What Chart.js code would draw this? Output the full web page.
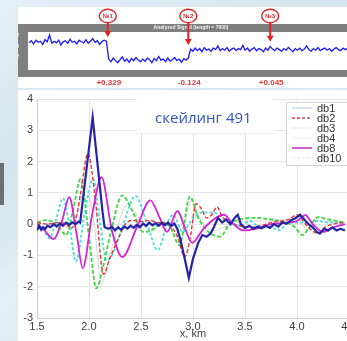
<!DOCTYPE html>
<html><head><meta charset="utf-8">
<script src="https://cdn.jsdelivr.net/npm/chart.js@4.4.0/dist/chart.umd.min.js"></script>
<style>
html,body{margin:0;padding:0;width:347px;height:341px;overflow:hidden;}
body{position:relative;background:linear-gradient(155deg,#e4eff5 0%,#d2e4ee 35%,#e2eff5 60%,#cfe2ec 100%);}
#topPanel{position:absolute;left:18px;top:7px;width:340px;height:81px;background:#fff;}
#botPanel{position:absolute;left:18px;top:90px;width:340px;height:260px;background:#fff;}
#bar{position:absolute;left:0;top:163px;width:4px;height:42px;background:#6e6e6e;}
#topCanvas{position:absolute;left:18px;top:7px;}
#botCanvas{position:absolute;left:0;top:90px;}
</style></head>
<body>
<div id="topPanel"></div><div id="botPanel"></div><div id="bar"></div>
<canvas id="topCanvas" width="340" height="81"></canvas>
<canvas id="botCanvas" width="354" height="251"></canvas>
<script>
// ---------- top panel: analysed signal ----------
const signalStart = 100, signalStep = 50;
const signalValues = [
 0.07,0.11,0.05,0.12,0.08,0.10,0.04,0.13,0.09,0.22,0.06,0.10,0.07,0.12,0.03,0.09,0.11,0.06,0.14,0.08,
 0.10,0.05,0.12,0.09,0.07,0.13,0.06,0.10,0.15,0.08,0.11,0.04,0.09,0.12,0.10,
 -0.24,-0.29,-0.22,-0.27,-0.31,-0.25,-0.20,-0.28,-0.24,-0.30,-0.23,-0.27,-0.21,-0.26,-0.29,-0.24,-0.28,-0.22,
 -0.25,-0.31,-0.23,-0.27,-0.19,-0.26,-0.24,-0.29,-0.22,-0.28,-0.25,-0.21,-0.27,-0.24,-0.30,-0.23,-0.26,-0.22,
 -0.05,-0.09,-0.03,-0.08,-0.04,-0.10,-0.02,-0.07,-0.05,-0.09,
 -0.03,-0.06,0.01,-0.08,-0.04,-0.07,-0.02,-0.09,-0.05,-0.03,
 -0.08,-0.04,-0.06,0.02,-0.07,-0.03,-0.09,-0.05,-0.02,-0.08,
 -0.04,-0.06,-0.10,-0.03,-0.07,0.00,-0.05,-0.08,-0.03,-0.06,
 -0.09,-0.04,-0.07,-0.02,-0.06,-0.10,-0.04,-0.07,-0.03,-0.08,
 -0.05,0.01,-0.06,-0.09,-0.04,-0.07,-0.02,-0.08,-0.05,-0.03,
 -0.07,-0.04,-0.09,-0.05,-0.02,-0.06,-0.08,-0.03,-0.06,-0.04,
 -0.07,-0.05
];
const topTicksX = [1000,2000,3000,4000,5000,6000,7000];
const topTicksY = [0.2,0,-0.2];
const markerX = [1830,3600,5400];
const markerNames = ['№1','№2','№3'];
const markerTipY = [0.18,0.03,0.09];
const markerValues = ['+0.329','-0.124','+0.045'];
const topTitle = 'Analyzed Signal (length = 7000)';

// ---------- bottom panel: wavelet curves ----------
const db1X = [1.5,1.52,1.54,1.56,1.58,1.6,1.63,1.66,1.69,1.72,1.75,1.78,1.81,1.84,1.87,1.9,1.915,2.035,2.13,2.15,
 2.19,2.22,2.25,2.28,2.31,2.34,2.37,2.40,2.43,2.46,2.49,2.52,2.55,2.58,2.61,2.64,2.67,2.70,2.73,2.76,2.79,2.82,2.85,
 2.88,2.92,2.96,3.0,3.05,3.09,3.13,3.17,3.2,3.24,3.28,3.32,3.36,3.40,3.43,3.46,3.5,3.54,3.58,3.62,3.66,3.70,3.74,
 3.78,3.82,3.86,3.90,3.94,3.98,4.03,4.07,4.11,4.15,4.19,4.22,4.26,4.30,4.34,4.38,4.42,4.46];
const db1Y = [-0.2,-0.05,-0.18,-0.1,-0.15,-0.05,-0.1,0.0,-0.08,0.02,-0.05,0.05,-0.02,0.06,0.0,0.08,0.05,3.41,0.4,-0.1,
 -0.15,-0.08,-0.2,-0.1,-0.18,-0.08,-0.14,-0.05,-0.12,-0.02,-0.1,0.02,-0.06,0.05,-0.04,0.03,-0.05,0.04,-0.03,0.05,-0.06,0.02,-0.15,
 -0.5,-1.1,-1.72,-1.1,-0.6,-0.35,-0.4,-0.3,-0.1,0.2,0.05,0.15,0.0,0.2,0.3,0.0,-0.13,-0.05,-0.15,-0.08,-0.13,-0.05,-0.12,
 0.0,-0.08,0.05,0.02,0.12,0.18,0.3,0.15,0.0,-0.1,-0.25,-0.3,-0.15,-0.2,-0.1,-0.2,-0.15,-0.2];

const db2X = [1.5,1.6,1.7,1.78,1.83,1.87,1.92,1.99,2.06,2.14,2.2,2.27,2.35,2.42,2.5,2.58,2.66,2.76,2.85,2.92,2.97,3.03,3.08,3.13,3.18,3.23,3.28,3.35,3.45,3.55,3.65,3.75,3.85,3.92,4.0,4.07,4.14,4.2,4.27,4.35,4.46];
const db2Y = [0.05,0.0,0.05,0.0,-0.13,0.1,1.0,2.26,0.8,-1.6,-1.1,-0.55,0.0,0.12,0.08,0.12,0.05,0.0,-0.4,-1.05,-0.5,0.65,0.5,0.2,0.3,0.55,0.25,0.05,-0.05,-0.1,-0.05,0.05,0.1,0.15,0.3,0.05,-0.2,-0.3,-0.1,0.0,0.05];

const db3X = [1.5,1.58,1.66,1.72,1.78,1.85,1.92,2.0,2.07,2.14,2.22,2.32,2.42,2.52,2.6,2.71,2.78,2.87,2.97,3.05,3.15,3.26,3.35,3.45,3.6,3.75,3.9,3.98,4.05,4.12,4.2,4.3,4.46];
const db3Y = [0.05,0.13,0.05,-0.15,-0.35,0.5,1.45,-0.4,-2.05,-1.3,-0.1,0.92,0.4,-0.25,-0.2,0.06,-0.1,-0.67,0.88,0.2,-0.25,-0.4,0.0,0.15,0.2,0.15,0.05,-0.1,-0.35,-0.1,0.22,0.15,0.05];

const db4X = [1.5,1.7,1.8,1.88,1.97,2.05,2.12,2.2,2.37,2.48,2.58,2.7,2.82,2.88,2.98,3.08,3.2,3.3,3.5,3.7,3.9,4.0,4.1,4.2,4.46];
const db4Y = [0.0,0.05,-0.1,0.3,1.2,0.0,-1.9,-1.0,0.62,0.2,-0.2,0.05,0.0,-0.5,0.75,0.1,-0.2,-0.1,0.1,0.1,0.15,0.2,-0.2,0.1,0.05];

const db8X = [1.5,1.56,1.66,1.74,1.81,1.88,1.94,2.03,2.12,2.22,2.32,2.46,2.59,2.68,2.75,2.85,2.92,2.99,3.1,3.22,3.3,3.36,3.48,3.6,3.75,3.9,4.0,4.08,4.15,4.25,4.35,4.46];
const db8Y = [0.0,-0.15,-0.48,0.1,0.86,-0.3,-1.4,0.3,1.5,-0.2,-1.05,-0.1,0.76,0.2,-0.25,0.42,-0.1,-0.6,-0.15,0.2,0.3,0.1,-0.2,-0.15,0.0,0.05,0.1,0.29,0.0,-0.25,-0.1,0.0];

const db10X = [1.5,1.56,1.62,1.68,1.75,1.81,1.875,1.96,2.04,2.1,2.17,2.22,2.3,2.45,2.55,2.66,2.75,2.81,2.9,3.0,3.1,3.22,3.32,3.45,3.55,3.62,3.75,3.82,3.9,3.96,4.06,4.2,4.3,4.46];
const db10Y = [-0.1,-0.2,-0.45,0.1,0.83,0.0,-1.2,0.4,1.45,0.2,-1.15,-1.0,-0.3,0.9,0.1,-0.83,0.0,0.3,-0.25,0.2,0.38,0.35,0.1,-0.05,0.1,-0.05,-0.1,-0.2,0.0,0.05,0.05,0.1,0.05,0.05];

const seriesNames = ['db1','db2','db3','db4','db8','db10'];
const xTickMin = 1.5, xTickMax = 4.5, xStep = 0.5;
const yTickMin = -3, yTickMax = 4, yStep = 1;
const annoText = 'скейлинг 491';
const annoPos = [2.635, 3.23];
const annoBox = [2.46, 3.77, 4.06, 2.9];

Chart.defaults.font.family = "'Liberation Sans', Arial, sans-serif";
Chart.defaults.font.size = 11;
Chart.defaults.color = '#404040';

const pts = (xs, ys) => xs.map((v, i) => ({x: v, y: ys[i]}));

// ---- top chart ----
const topPlugin = {
  id: 'topDecor',
  beforeDraw(chart) {
    const {ctx, chartArea: a, width} = chart;
    ctx.save();
    ctx.fillStyle = '#7f7f7f';
    ctx.fillRect(0, a.top - 8, width, a.bottom - a.top + 15);
    ctx.fillStyle = '#ffffff';
    ctx.fillRect(a.left, a.top, a.right - a.left, a.bottom - a.top);
    ctx.fillStyle = '#f2f2f2';
    ctx.font = "bold 5px 'Liberation Sans', Arial";
    ctx.textAlign = 'center'; ctx.textBaseline = 'middle';
    ctx.fillText(topTitle, (a.left + a.right) / 2 - 2, a.top - 4);
    ctx.restore();
  },
  afterDraw(chart) {
    const {ctx, chartArea: a, scales: {x, y}} = chart;
    ctx.save();
    markerX.forEach((mx, i) => {
      const px = x.getPixelForValue(mx);
      const cy = 9;
      const tip = y.getPixelForValue(markerTipY[i]);
      ctx.strokeStyle = '#e02424'; ctx.fillStyle = '#e02424';
      ctx.lineWidth = 2;
      ctx.beginPath(); ctx.moveTo(px, cy + 7); ctx.lineTo(px, tip - 5); ctx.stroke();
      ctx.beginPath(); ctx.moveTo(px - 3.5, tip - 6); ctx.lineTo(px + 3.5, tip - 6); ctx.lineTo(px, tip); ctx.closePath(); ctx.fill();
      ctx.fillStyle = '#ffffff'; ctx.lineWidth = 1.4;
      ctx.beginPath(); ctx.ellipse(px, cy, 8.5, 6.8, 0, 0, Math.PI * 2); ctx.fill(); ctx.stroke();
      ctx.fillStyle = '#d82020';
      ctx.font = "bold 6px 'Liberation Sans', Arial";
      ctx.textAlign = 'center'; ctx.textBaseline = 'middle';
      ctx.fillText(markerNames[i], px, cy + 0.5);
      ctx.fillStyle = '#e43a3a';
      ctx.font = "bold 8px 'Liberation Sans', Arial";
      ctx.fillText(markerValues[i], px + 1, a.bottom + 13);
    });
    ctx.restore();
  }
};

new Chart(document.getElementById('topCanvas'), {
  type: 'line',
  data: { datasets: [{
    data: signalValues.map((v, i) => ({x: signalStart + i * signalStep, y: v})),
    borderColor: '#1a1aff', borderWidth: 1.3, pointRadius: 0, tension: 0
  }]},
  options: {
    responsive: false, animation: false, devicePixelRatio: 1,
    layout: {padding: {top: 25, bottom: 11, left: 0, right: 0}},
    plugins: {legend: {display: false}, tooltip: {enabled: false}},
    scales: {
      x: {type: 'linear', min: 77, max: 7330,
          afterBuildTicks: s => { s.ticks = topTicksX.map(v => ({value: v})); },
          afterFit: s => { s.height = 7; s.paddingLeft = 0; s.paddingRight = 0; },
          grid: {display: false}, border: {display: false},
          ticks: {color: '#f0f0f0', font: {size: 5, weight: 'bold'}, padding: 1, maxRotation: 0, autoSkip: false}},
      y: {min: -0.448, max: 0.276,
          afterBuildTicks: s => { s.ticks = topTicksY.map(v => ({value: v})); },
          afterFit: s => { s.width = 10; s.paddingTop = 0; s.paddingBottom = 0; },
          grid: {display: false}, border: {display: false},
          ticks: {color: '#f0f0f0', font: {size: 5, weight: 'bold'}, padding: 1}}
    }
  },
  plugins: [topPlugin]
});

// ---- bottom chart ----
const legendStyles = [
  {color: '#b9cbe6', dash: [], width: 1.2},
  {color: '#c94a4a', dash: [3, 2], width: 1.3},
  {color: '#cdd6cd', dash: [1.5, 1.5], width: 1.2},
  {color: '#f0f0f0', dash: [], width: 1},
  {color: '#c635c6', dash: [], width: 1.6},
  {color: '#d6f0f0', dash: [3, 2], width: 1.2}
];

const botPlugin = {
  id: 'botDecor',
  beforeDatasetsDraw(chart) {
    const {ctx, scales: {x, y}} = chart;
    const x0 = x.getPixelForValue(annoBox[0]), x1 = x.getPixelForValue(annoBox[1]);
    const y0 = y.getPixelForValue(annoBox[2]), y1 = y.getPixelForValue(annoBox[3]);
    ctx.save();
    ctx.fillStyle = '#ffffff';
    ctx.fillRect(x0, y0, x1 - x0, y1 - y0);
    ctx.strokeStyle = '#eeeeee'; ctx.lineWidth = 1;
    ctx.beginPath(); ctx.moveTo(x0, Math.round(y1) + 0.5); ctx.lineTo(x1, Math.round(y1) + 0.5); ctx.stroke();
    ctx.fillStyle = '#2e55c8';
    ctx.font = "15px 'Open Sans', 'Noto Sans', sans-serif";
    ctx.textAlign = 'left'; ctx.textBaseline = 'alphabetic';
    ctx.fillText(annoText, x.getPixelForValue(annoPos[0]), y.getPixelForValue(annoPos[1]));
    ctx.restore();
  },
  afterDraw(chart) {
    const {ctx, chartArea: a} = chart;
    const lx = a.right - 63, ly = a.top + 3;
    ctx.save();
    ctx.fillStyle = '#ffffff'; ctx.strokeStyle = '#d4d4d4'; ctx.lineWidth = 1;
    ctx.fillRect(lx, ly, 80, 63);
    ctx.strokeRect(lx + 0.5, ly + 0.5, 80, 63);
    seriesNames.forEach((name, i) => {
      const st = legendStyles[i];
      const yy = ly + 6 + i * 10;
      ctx.strokeStyle = st.color; ctx.lineWidth = st.width; ctx.setLineDash(st.dash);
      ctx.beginPath(); ctx.moveTo(lx + 6, yy); ctx.lineTo(lx + 26, yy); ctx.stroke();
      ctx.setLineDash([]);
      ctx.fillStyle = '#333333';
      ctx.font = "11px 'Liberation Sans', Arial, sans-serif";
      ctx.textAlign = 'left'; ctx.textBaseline = 'middle';
      ctx.fillText(name, lx + 31, yy + 0.5);
    });
    ctx.restore();
  }
};

new Chart(document.getElementById('botCanvas'), {
  type: 'line',
  data: { datasets: [
    {label: seriesNames[0], data: pts(db1X, db1Y), borderColor: '#2424a8', borderWidth: 2.2, tension: 0, order: 0},
    {label: seriesNames[1], data: pts(db2X, db2Y), borderColor: '#e03a3a', borderWidth: 1.4, borderDash: [4, 2], cubicInterpolationMode: 'monotone', order: 2},
    {label: seriesNames[2], data: pts(db3X, db3Y), borderColor: '#44d444', borderWidth: 1.8, borderDash: [4, 2], cubicInterpolationMode: 'monotone', order: 3},
    {label: seriesNames[3], data: pts(db4X, db4Y), borderColor: '#cfcfcf', borderWidth: 0.9, cubicInterpolationMode: 'monotone', order: 5},
    {label: seriesNames[4], data: pts(db8X, db8Y), borderColor: '#d424d4', borderWidth: 1.8, cubicInterpolationMode: 'monotone', order: 1},
    {label: seriesNames[5], data: pts(db10X, db10Y), borderColor: '#46e0e0', borderWidth: 1.8, borderDash: [3, 2], cubicInterpolationMode: 'monotone', order: 4}
  ]},
  options: {
    responsive: false, animation: false, devicePixelRatio: 1,
    elements: {point: {radius: 0}},
    layout: {padding: {top: 9, right: 5, left: 0, bottom: 0}},
    plugins: {legend: {display: false}, tooltip: {enabled: false}},
    scales: {
      x: {type: 'linear', min: xTickMin, max: xTickMax,
          ticks: {stepSize: xStep, padding: 2, maxRotation: 0, autoSkip: false, color: '#404040'},
          grid: {color: '#e4e4e4', drawTicks: false},
          border: {color: '#cfcfcf'},
          title: {display: true, text: 'x, km', color: '#404040', font: {size: 11}, padding: {top: 0, bottom: 0}},
          afterFit: s => { s.height = 23; s.paddingLeft = 0; s.paddingRight = 0; }},
      y: {min: yTickMin, max: yTickMax,
          ticks: {stepSize: yStep, padding: 4, color: '#404040'},
          grid: {color: '#e4e4e4', drawTicks: false},
          border: {color: '#cfcfcf'},
          afterFit: s => { s.width = 37; s.paddingTop = 0; s.paddingBottom = 0; }}
    }
  },
  plugins: [botPlugin]
});
</script>
</body></html>
